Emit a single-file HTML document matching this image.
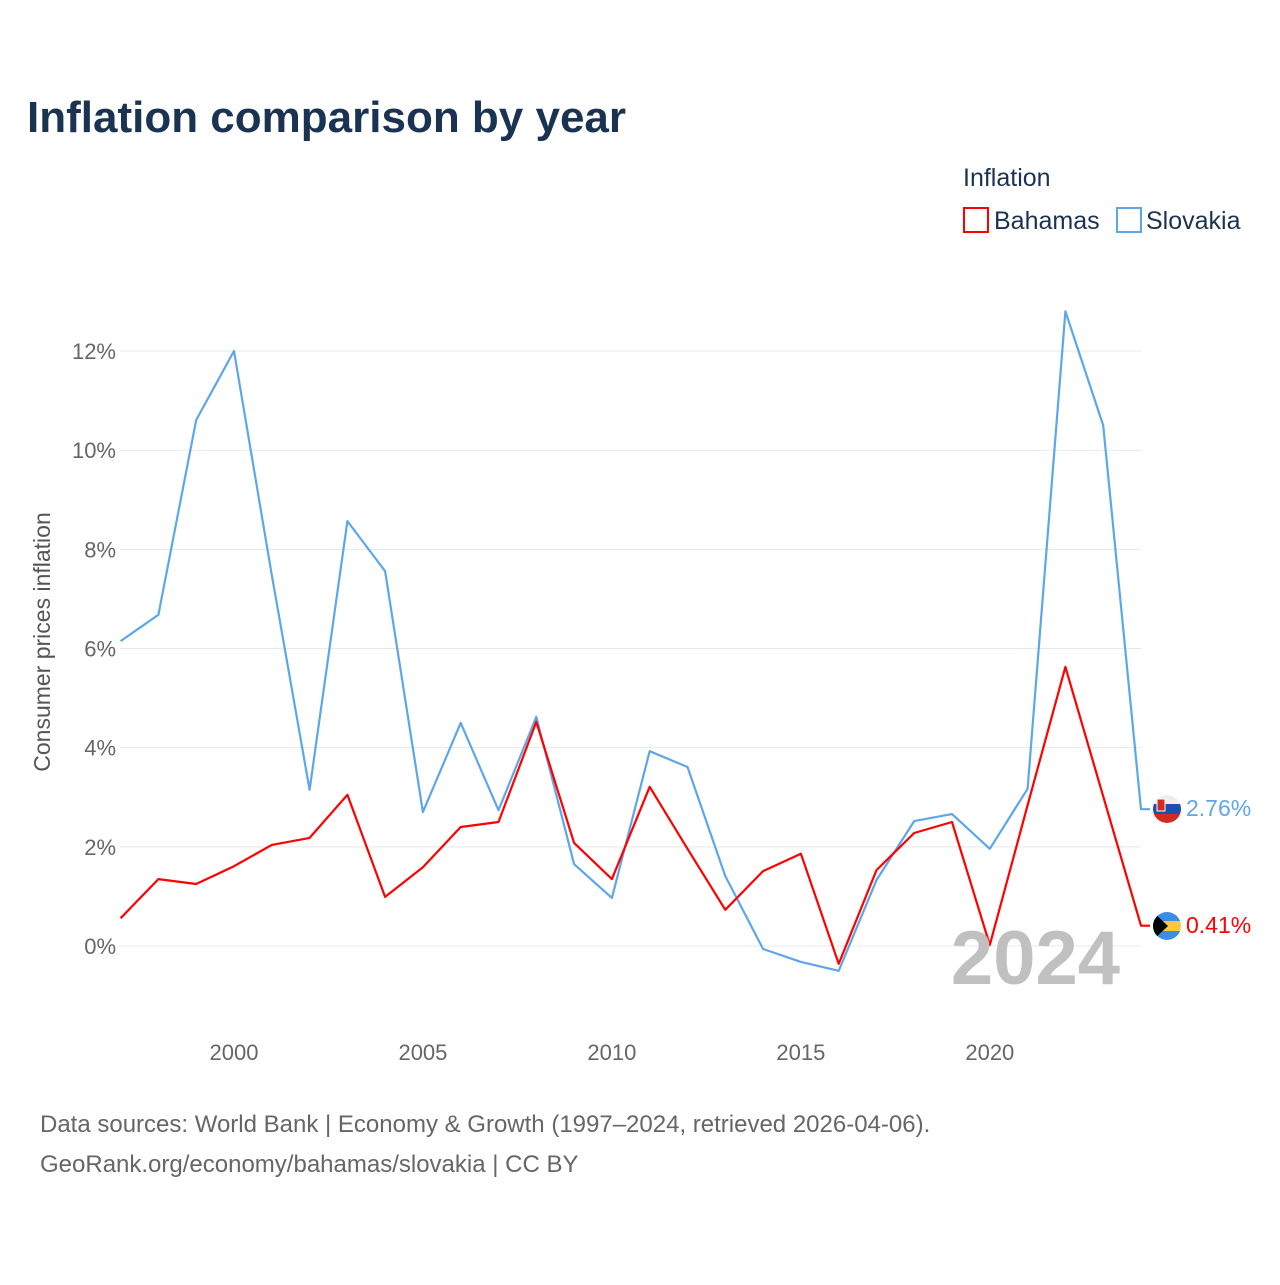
<!DOCTYPE html>
<html><head><meta charset="utf-8"><style>
body{margin:0;background:#fff;font-family:"Liberation Sans",sans-serif}
svg text{font-family:"Liberation Sans",sans-serif}
</style></head><body>
<svg width="1280" height="1280" xmlns="http://www.w3.org/2000/svg">
<rect width="1280" height="1280" fill="#fff"/>
<text x="27" y="132" font-size="44" font-weight="bold" fill="#1b3352">Inflation comparison by year</text>
<text x="963" y="186" font-size="25" fill="#1b3352">Inflation</text>
<g><rect x="964" y="208" width="24" height="24" fill="none" stroke="#ff0000" stroke-width="2"/><text x="994" y="229" font-size="25" fill="#1b3352">Bahamas</text></g>
<g><rect x="1117" y="208" width="24" height="24" fill="none" stroke="#5ea6ea" stroke-width="2"/><text x="1146" y="229" font-size="25" fill="#1b3352">Slovakia</text></g>
<g id="grid"></g><g id="xt"></g><g id="lines"></g>
<text x="1120" y="984" font-size="76" font-weight="bold" fill="#c0c0c0" text-anchor="end">2024</text>
<text transform="translate(50,642) rotate(-90)" font-size="23" fill="#555" text-anchor="middle">Consumer prices inflation</text>
<g><clipPath id="c1"><circle cx="1167" cy="809" r="14"/></clipPath><g clip-path="url(#c1)"><rect x="1150" y="794" width="34" height="10" fill="#eee"/><rect x="1150" y="804" width="34" height="10" fill="#1e4fb0"/><rect x="1150" y="814" width="34" height="10" fill="#d52b1e"/><rect x="1157" y="799" width="8" height="12" fill="#d52b1e" stroke="#fff"/></g></g>
<g><clipPath id="c2"><circle cx="1167" cy="926" r="14"/></clipPath><g clip-path="url(#c2)"><rect x="1150" y="911" width="34" height="10" fill="#3a8ee6"/><rect x="1150" y="921" width="34" height="10" fill="#fcc83c"/><rect x="1150" y="931" width="34" height="10" fill="#3a8ee6"/><polygon points="1152,911 1168,926 1152,941" fill="#000"/></g></g>
<text x="1186" y="816" font-size="23" fill="#5ea6ea">2.76%</text>
<text x="1186" y="933" font-size="23" fill="#ff0000">0.41%</text>
<text x="40" y="1132" font-size="24" fill="#666">Data sources: World Bank | Economy &amp; Growth (1997–2024, retrieved 2026-04-06).</text>
<text x="40" y="1172" font-size="24" fill="#666">GeoRank.org/economy/bahamas/slovakia | CC BY</text>
</svg>
<script>
const years=[1997,1998,1999,2000,2001,2002,2003,2004,2005,2006,2007,2008,2009,2010,2011,2012,2013,2014,2015,2016,2017,2018,2019,2020,2021,2022,2023,2024];
const slovakia=[6.15,6.68,10.61,12.0,7.48,3.15,8.57,7.56,2.70,4.50,2.74,4.62,1.65,0.97,3.93,3.61,1.41,-0.06,-0.32,-0.50,1.33,2.52,2.66,1.96,3.17,12.8,10.5,2.76];
const bahamas=[0.56,1.35,1.25,1.61,2.04,2.18,3.05,0.99,1.59,2.40,2.50,4.52,2.08,1.35,3.21,1.96,0.73,1.51,1.86,-0.36,1.53,2.28,2.50,0.02,2.84,5.63,3.02,0.41];
const yTicks=[0,2,4,6,8,10,12];
const xTicks=[2000,2005,2010,2015,2020];
const NS="http://www.w3.org/2000/svg";
const X=y=>120.6+(y-1997)*(1141-120.6)/27;
const Y=v=>946-v*49.58;
function mk(t,a,p){const e=document.createElementNS(NS,t);for(const k in a)e.setAttribute(k,a[k]);p.appendChild(e);return e;}
const g=document.getElementById('grid');
yTicks.forEach(v=>{
const l=mk('line',{x1:120,x2:1141,y1:Y(v),y2:Y(v),stroke:'#e8e8e8','stroke-width':1},g);


const t=mk('text',{x:116,y:Y(v)+8,'font-size':22,fill:'#666','text-anchor':'end'},g);t.textContent=v+'%';


});
const xt=document.getElementById('xt');
xTicks.forEach(v=>{const t=mk('text',{x:X(v),y:1060,'font-size':22,fill:'#666','text-anchor':'middle'},xt);t.textContent=v;

});
const lg=document.getElementById('lines');
function line(d,c,name){let p=d.map((v,i)=>X(years[i]).toFixed(1)+','+Y(v).toFixed(1)).join(' ');
p+=' 1150,'+Y(d[d.length-1]).toFixed(1);
const e=mk('polyline',{points:p,fill:'none',stroke:c,'stroke-width':2.2,'stroke-linejoin':'round'},lg);

}
line(slovakia,'#5ea6ea','slovakia-line');
line(bahamas,'#ff0000','bahamas-line');
</script>
</body></html>
